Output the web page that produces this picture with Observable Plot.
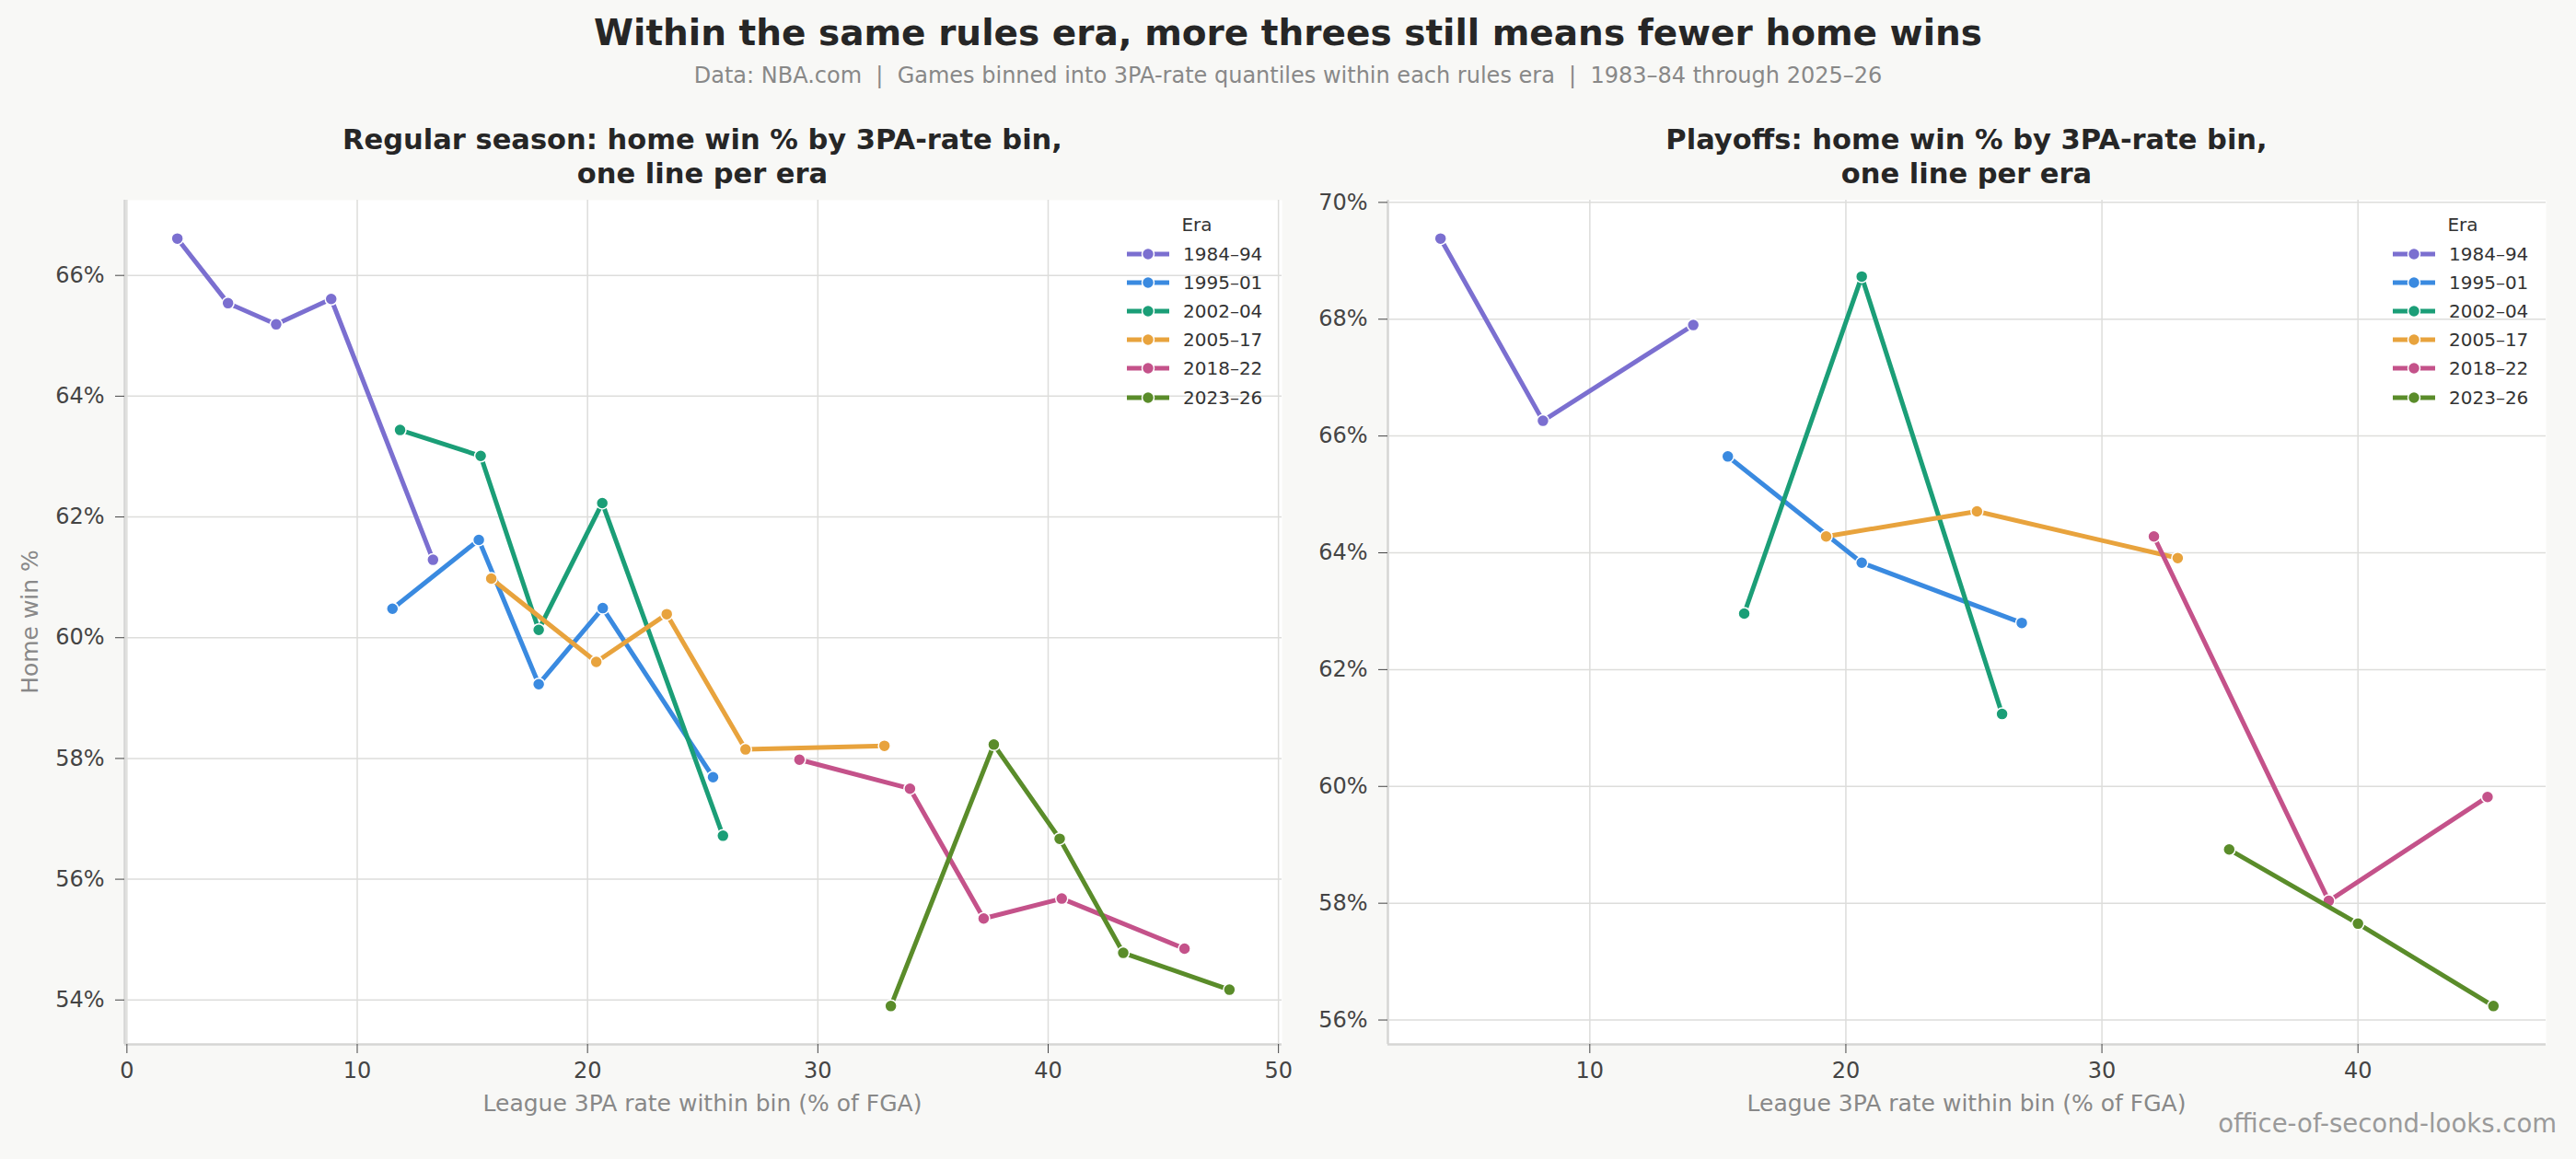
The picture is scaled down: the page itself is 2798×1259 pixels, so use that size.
<!DOCTYPE html>
<html><head><meta charset="utf-8">
<script src="https://cdn.jsdelivr.net/npm/d3@7"></script>
<script src="https://cdn.jsdelivr.net/npm/@observablehq/plot@0.6"></script>
<style>
html,body{margin:0;padding:0;background:#f8f8f6;}
#root{position:relative;width:2798px;height:1259px;background:#f8f8f6;font-family:"DejaVu Sans",sans-serif;overflow:hidden;}
.abs{position:absolute;white-space:pre;}
.legend-row{position:absolute;display:flex;align-items:center;font-size:20px;color:#333;line-height:20px;}
</style></head><body><div id="root"></div>
<script>
// ---- Data ----
const eras = ["1984–94", "1995–01", "2002–04", "2005–17", "2018–22", "2023–26"];
const eraColors = ["#7b6fd0", "#3a8ae0", "#1b9e77", "#e8a33d", "#c4528a", "#5a8c2a"];

// Regular season: one point per 3PA-rate bin
const regEra = [
  "1984–94","1984–94","1984–94","1984–94","1984–94",
  "1995–01","1995–01","1995–01","1995–01","1995–01",
  "2002–04","2002–04","2002–04","2002–04","2002–04",
  "2005–17","2005–17","2005–17","2005–17","2005–17",
  "2018–22","2018–22","2018–22","2018–22","2018–22",
  "2023–26","2023–26","2023–26","2023–26","2023–26"];
const regRate = [
  2.19, 4.39, 6.48, 8.87, 13.29,
  11.53, 15.28, 17.88, 20.66, 25.45,
  11.86, 15.36, 17.88, 20.64, 25.88,
  15.82, 20.38, 23.44, 26.86, 32.89,
  29.20, 34.00, 37.20, 40.59, 45.92,
  33.17, 37.64, 40.50, 43.26, 47.87];
const regWin = [
  66.61, 65.54, 65.19, 65.61, 61.29,
  60.48, 61.62, 59.23, 60.49, 57.69,
  63.44, 63.01, 60.13, 62.23, 56.72,
  60.98, 59.60, 60.39, 58.15, 58.21,
  57.98, 57.50, 55.35, 55.68, 54.85,
  53.90, 58.23, 56.67, 54.78, 54.17];

// Playoffs
const poEra = [
  "1984–94","1984–94","1984–94",
  "1995–01","1995–01","1995–01",
  "2002–04","2002–04","2002–04",
  "2005–17","2005–17","2005–17",
  "2018–22","2018–22","2018–22",
  "2023–26","2023–26","2023–26"];
const poRate = [
  4.17, 8.17, 14.04,
  15.39, 20.62, 26.87,
  16.03, 20.62, 26.10,
  19.23, 25.12, 32.96,
  32.03, 38.86, 45.06,
  34.97, 40.00, 45.29];
const poWin = [
  69.38, 66.26, 67.90,
  65.65, 63.83, 62.80,
  62.96, 68.73, 61.24,
  64.28, 64.71, 63.91,
  64.28, 58.04, 59.82,
  58.92, 57.65, 56.24];

const regXTicks = [0, 10, 20, 30, 40, 50];
const regYTicks = [54, 56, 58, 60, 62, 64, 66];
const poXTicks = [10, 20, 30, 40];
const poYTicks = [56, 58, 60, 62, 64, 66, 68, 70];

const title = "Within the same rules era, more threes still means fewer home wins";
const subtitle = "Data: NBA.com  |  Games binned into 3PA-rate quantiles within each rules era  |  1983–84 through 2025–26";
const regTitle = "Regular season: home win % by 3PA-rate bin,\none line per era";
const poTitle = "Playoffs: home win % by 3PA-rate bin,\none line per era";
const xLabel = "League 3PA rate within bin (% of FGA)";
const yLabel = "Home win %";
const legendTitle = "Era";
const watermark = "office-of-second-looks.com";

// ---- Layout ----
const root = document.getElementById("root");
function addText(txt, css) {
  const d = document.createElement("div");
  d.className = "abs";
  d.textContent = txt;
  Object.assign(d.style, css);
  root.appendChild(d);
  return d;
}

function pad(ext) { const p = (ext[1] - ext[0]) * 0.05; return [ext[0] - p, ext[1] + p]; }

function panel(era, rate, win, xTicks, yTicks, dims) {
  const data = era.map((e, i) => ({era: e, x: rate[i], y: win[i]}));
  const xd = pad(d3.extent(rate)), yd = pad(d3.extent(win));
  const marks = [
    Plot.frame({fill: "white", stroke: "none"}),
    Plot.gridX(xTicks, {stroke: "#dddddb", strokeOpacity: 1, strokeWidth: 1.5}),
    Plot.gridY(yTicks, {stroke: "#dddddb", strokeOpacity: 1, strokeWidth: 1.5}),
    Plot.ruleX([xd[0]], {stroke: "#d6d6d4", strokeWidth: 2.5}),
    Plot.ruleY([yd[0]], {stroke: "#d6d6d4", strokeWidth: 2.5}),
    Plot.axisX(xTicks, {tickSize: 10, tickPadding: 9, fontSize: 24, label: null}),
    Plot.axisY(yTicks, {tickSize: 10, tickPadding: 12, fontSize: 24, label: null, tickFormat: d => d + "%"})
  ];
  for (const e of eras) {
    const sub = data.filter(d => d.era === e);
    marks.push(Plot.line(sub, {x: "x", y: "y", stroke: "era", strokeWidth: 5, strokeLinejoin: "round", strokeLinecap: "round"}));
    marks.push(Plot.dot(sub, {x: "x", y: "y", fill: "era", stroke: "white", strokeWidth: 1.5, r: 6.5}));
  }
  const svg = Plot.plot({
    width: dims.width, height: dims.height,
    marginLeft: dims.ml, marginRight: dims.mr, marginTop: dims.mt, marginBottom: dims.mb,
    x: {domain: xd}, y: {domain: yd},
    color: {domain: eras, range: eraColors},
    style: {fontFamily: "DejaVu Sans", fontSize: "24px", color: "#444", background: "transparent", overflow: "visible"},
    marks
  });
  svg.style.position = "absolute";
  svg.style.left = dims.left + "px";
  svg.style.top = dims.top + "px";
  root.appendChild(svg);
}

panel(regEra, regRate, regWin, regXTicks, regYTicks,
  {left: 0, top: 200, width: 1400, height: 1034, ml: 135, mr: 8, mt: 17, mb: 100});
panel(poEra, poRate, poWin, poXTicks, poYTicks,
  {left: 1400, top: 200, width: 1398, height: 1034, ml: 107, mr: 33, mt: 17, mb: 100});

// titles
addText(title, {left: "0px", width: "2798px", textAlign: "center", top: "16px", fontSize: "39px", lineHeight: "39px", fontWeight: "bold", color: "#262626"});
addText(subtitle, {left: "0px", width: "2798px", textAlign: "center", top: "70px", fontSize: "24px", lineHeight: "24px", color: "#888"});
addText(regTitle, {left: (763 - 700) + "px", width: "1400px", textAlign: "center", top: "133px", fontSize: "30.5px", lineHeight: "37px", fontWeight: "bold", color: "#262626"});
addText(poTitle, {left: (2136 - 700) + "px", width: "1400px", textAlign: "center", top: "133px", fontSize: "30.5px", lineHeight: "37px", fontWeight: "bold", color: "#262626"});
addText(xLabel, {left: (763 - 400) + "px", width: "800px", textAlign: "center", top: "1186px", fontSize: "25px", lineHeight: "25px", color: "#888"});
addText(xLabel, {left: (2136 - 400) + "px", width: "800px", textAlign: "center", top: "1186px", fontSize: "25px", lineHeight: "25px", color: "#888"});
addText(yLabel, {left: (32 - 150) + "px", width: "300px", textAlign: "center", top: (675 - 12.5) + "px", fontSize: "25px", lineHeight: "25px", color: "#888", transform: "rotate(-90deg)"});
addText(watermark, {right: "21px", top: "1207px", fontSize: "27.5px", lineHeight: "27.5px", color: "#9a9a9a"});

// legends
function legend(lineLeft, eraCenter) {
  addText(legendTitle, {left: (eraCenter - 50) + "px", width: "100px", textAlign: "center", top: (244 - 10) + "px", fontSize: "20px", lineHeight: "20px", color: "#333"});
  eras.forEach((e, i) => {
    const row = document.createElement("div");
    row.className = "legend-row";
    row.style.left = lineLeft + "px";
    row.style.top = (276 + i * 31.1 - 10) + "px";
    row.innerHTML = `<svg width="48" height="20" style="margin-right:14px"><line x1="1" x2="47" y1="10" y2="10" stroke="${eraColors[i]}" stroke-width="5"/><circle cx="24" cy="10" r="6.5" fill="${eraColors[i]}" stroke="white" stroke-width="1.5"/></svg><span>${e}</span>`;
    root.appendChild(row);
  });
}
legend(1223, 1300);
legend(2598, 2675);
</script></body></html>
